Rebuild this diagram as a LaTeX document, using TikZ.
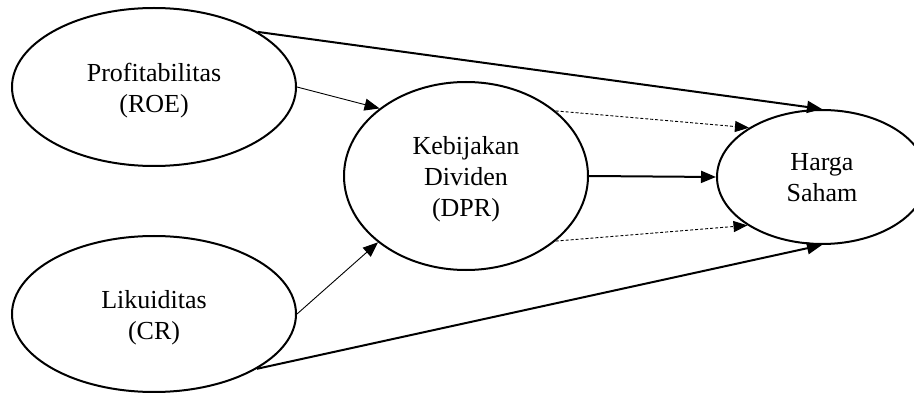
\documentclass[tikz,border=0pt]{standalone}
\usepackage{fontspec}
\setmainfont{Liberation Serif}
\usetikzlibrary{shapes.geometric,arrows.meta}
\tikzset{
  ell/.style={ellipse, draw, line width=2pt, inner sep=0pt},
  txt/.style={align=center, inner sep=0pt, font=\fontsize{26}{31}\selectfont},
  thickarr/.style={line width=2pt, -{Triangle[length=15pt,width=12pt]}},
  thinarr/.style={line width=0.9pt, -{Triangle[length=15pt,width=12pt]}},
  dasharr/.style={line width=0.9pt, dash pattern=on 3pt off 2pt, -{Triangle[length=14pt,width=11pt]}}
}
\begin{document}
\begin{tikzpicture}[x=1pt,y=-1pt]
\useasboundingbox (0,0) rectangle (914,393);
\node[ell, minimum width=284pt, minimum height=158pt] (prof) at (154,87) {};
\node[ell, minimum width=284pt, minimum height=156pt] (likd) at (154,314) {};
\node[ell, minimum width=244pt, minimum height=188pt] (keb) at (466,176) {};
\node[ell, minimum width=210pt, minimum height=134pt] (hrg) at (822,177) {};
\node[txt] (profT) at (154,91) {Profitabilitas\\(ROE)};
\node[txt] (likdT) at (154,318) {Likuiditas\\(CR)};
\node[txt] (kebT) at (466,179) {Kebijakan\\Dividen\\(DPR)};
\node[txt] (hrgT) at (822,178) {Harga\\Saham};
\draw[thinarr] (prof.east) -- (keb.142.5);
\draw[thinarr] (likd.east) -- (keb.217.5);
\draw[thickarr] (prof.28.6) -- (hrg.north);
\draw[thickarr] (likd.-28.6) -- (hrg.south);
\draw[thickarr] (keb.east) -- (hrg.west);
\draw[dasharr] (keb.36.6) -- (hrg.146.5);
\draw[dasharr] (keb.-36.6) -- (hrg.213.5);
\end{tikzpicture}
\end{document}
